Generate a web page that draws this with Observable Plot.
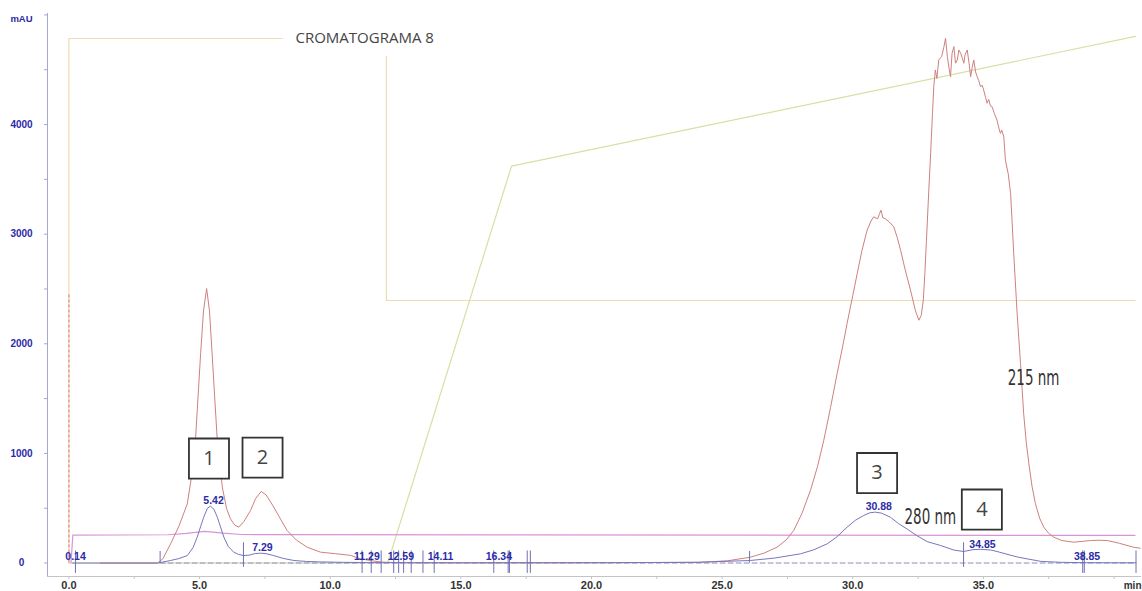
<!DOCTYPE html>
<html><head><meta charset="utf-8">
<script src="https://cdn.jsdelivr.net/npm/d3@7"></script>
<script src="https://cdn.jsdelivr.net/npm/@observablehq/plot@0.6"></script>
<style>html,body{margin:0;padding:0;background:#fff}</style>
</head><body><div id="chart"></div>
<script>
// ---- Data (time in min, signal in mAU) ----
const red215T = [1.2,3.4,3.6,3.89,4.2,4.53,4.7,4.85,5.04,5.15,5.27,5.38,5.48,5.67,5.87,6.03,6.18,6.35,6.5,6.7,6.95,7.15,7.36,7.55,7.84,8.1,8.35,8.7,9.12,9.63,10.2,10.78,11.16,11.6,12.04,13,15,18,21,24.17,25.2,26.08,26.6,27.1,27.45,27.74,28.05,28.38,28.65,28.89,29.15,29.4,29.6,29.78,30.0,30.17,30.35,30.55,30.7,30.8,30.95,31.03,31.08,31.15,31.25,31.31,31.4,31.57,31.7,31.83,32.0,32.21,32.4,32.53,32.62,32.7,32.76,32.82,32.91,32.98,33.05,33.1,33.16,33.22,33.29,33.4,33.48,33.55,33.62,33.68,33.74,33.8,33.87,33.93,34.0,34.06,34.13,34.2,34.25,34.3,34.38,34.45,34.51,34.57,34.63,34.7,34.76,34.82,34.89,34.95,35.01,35.08,35.14,35.2,35.27,35.33,35.42,35.52,35.6,35.65,35.7,35.78,35.84,35.95,36.04,36.1,36.16,36.29,36.42,36.54,36.64,36.74,36.86,36.99,37.15,37.31,37.5,37.69,38.0,38.46,38.8,39.1,39.4,39.74,40.2,40.75,41.0];
const red215V = [0,0,40,175,330,540,800,1149,1910,2300,2504,2300,1910,1149,692,500,404,345,327,380,479,590,653,620,510,400,297,210,144,99,85,70,38,20,7,3,2,2,3,7,20,53,90,144,210,297,450,662,880,1119,1420,1728,1960,2184,2440,2641,2850,3037,3120,3158,3140,3190,3219,3150,3140,3128,3110,3067,2970,2854,2680,2489,2300,2215,2260,2397,2650,2945,3402,3737,4100,4345,4498,4420,4589,4620,4700,4787,4620,4520,4436,4650,4711,4560,4589,4680,4650,4600,4559,4640,4680,4560,4436,4520,4589,4480,4436,4400,4345,4360,4315,4250,4194,4230,4170,4163,4100,4041,3960,3920,3950,3889,3676,3550,3372,3100,2824,2276,1819,1363,1100,906,700,541,410,327,270,236,205,190,198,205,208,205,180,144,135];

const blue280T = [0.14,3.4,3.89,4.2,4.53,4.75,4.91,5.05,5.16,5.3,5.42,5.55,5.68,5.8,5.93,6.1,6.31,6.5,6.69,6.9,7.1,7.33,7.55,7.84,8.2,8.61,9.1,9.63,10.5,12,15,20,24,26.08,27,28.0,28.5,29.02,29.4,29.78,30.1,30.42,30.65,30.86,31.1,31.44,31.75,32.08,32.45,32.85,33.36,33.87,34.24,34.6,34.9,35.3,35.6,35.9,36.3,36.67,37.2,38,39,40.84];
const blue280V = [0,0,23,40,68,140,236,340,418,500,519,490,418,330,236,150,99,78,68,72,85,90,85,68,42,23,14,10,6,3,2,3,6,23,45,84,120,175,240,327,390,434,458,464,455,418,360,310,250,195,160,118,105,122,125,118,100,80,55,38,15,6,3,2];

const pinkT = [0.08,0.15,3.8,4.5,5.2,5.9,6.6,40.8];
const pinkV = [0,255,258,270,288,272,260,252];

// gradient / program traces (a gap where the title sits)
const tanT = [0,0,8.16,null,12.15,12.15,40.8];
const tanV = [0,4785,4785,null,4621,2395,2395];
const greenT = [0,12.2,16.94,40.82];
const greenV = [0,0,3621,4804];

const injectionT = [0];
const injectionV = [2450];

const baselineT = [3.49,40.84];
const baselineV = [0,0];

// integration event marks (min)
const eventsDrop = [0.25,11.22,11.57,11.95,12.43,12.62,12.81,13.10,13.55,13.98,16.26,16.81,16.86,17.54,17.66,38.80,38.86,40.84];
const eventsCross = [6.68,34.24];
const eventsUp = [3.49,26.05];

// peak retention labels
const peakLabels = ["0.14","5.42","7.29","11.29","12.59","14.11","16.34","30.88","34.85","38.85"];
const peakRT = [0.14,5.42,7.29,11.29,12.59,14.11,16.34,30.88,34.85,38.85];
const peakH = [0,519,90,0,0,0,0,464,110,0];

// numbered peak boxes
const boxLabels = ["1","2","3","4"];
const boxT = [5.36,7.41,30.93,34.94];
const boxV = [953,962,821,488];

// wavelength annotations
const waveLabels = ["280 nm","215 nm"];
const waveT = [32.97,36.92];
const waveV = [424,1683];

const titleText = "CROMATOGRAMA 8";
const titleT = 8.67, titleV = 4785;

const xTicks = [0,5,10,15,20,25,30,35];
const xMinorTicks = d3.range(0, 41, 2.5);
const yTicks = [0,1000,2000,3000,4000];
const yMinorTicks = d3.range(0, 5001, 500);

const xDomain = [-0.82, 41.05];
const yDomain = [-123, 5013];

// ---- build tables ----
const zipTV = (T, V) => T.map((t, i) => ({t, v: V[i]}));
const red = zipTV(red215T, red215V);
const blue = zipTV(blue280T, blue280V);
const pink = zipTV(pinkT, pinkV);
const tan = zipTV(tanT, tanV);
const green = zipTV(greenT, greenV);
const injection = zipTV(injectionT, injectionV);
const baseline = zipTV(baselineT, baselineV);
const peaks = peakRT.map((t, i) => ({t, v: peakH[i], label: peakLabels[i]}));
const boxes = boxT.map((t, i) => ({t, v: boxV[i], label: boxLabels[i]}));
const waves = waveT.map((t, i) => ({t, v: waveV[i], label: waveLabels[i]}));

const blueC = "#7676bd", redC = "#cf8080", pinkC = "#d894d8", tanC = "#ecdcb4", greenC = "#d6e0a4", labC = "#2b2ba6";

const svg = Plot.plot({
  width: 1142, height: 591,
  marginTop: 13, marginRight: 1, marginBottom: 15, marginLeft: 47,
  style: {fontFamily: "'Liberation Sans', Arial, sans-serif", background: "#fff"},
  x: {domain: xDomain, label: null},
  y: {domain: yDomain, label: null},
  marks: [
    Plot.ruleX([xDomain[0]], {stroke: "#a6a6d2"}),
    Plot.ruleY([yDomain[0]], {stroke: "#c4c4c8"}),
    Plot.axisY({ticks: yMinorTicks, tickSize: 3, tickFormat: () => "", stroke: "#a6a6d2", label: null}),
    Plot.axisY({ticks: yTicks, tickSize: 0, tickPadding: 26, textAnchor: "middle", tickFormat: d => String(d), fill: labC, fontWeight: "bold", fontSize: 10, label: null}),
    Plot.axisX({ticks: xMinorTicks, tickSize: 3, tickFormat: () => "", stroke: "#c4c4c8", label: null}),
    Plot.axisX({ticks: xTicks, tickSize: 0, tickPadding: 5, tickFormat: d => d.toFixed(1), fill: "#333", fontWeight: "bold", fontSize: 11, label: null}),
    Plot.text(["mAU"], {frameAnchor: "top-left", textAnchor: "middle", lineAnchor: "top", dx: -26, dy: 2, fill: labC, fontWeight: "bold", fontSize: 9.5}),
    Plot.text(["min"], {frameAnchor: "bottom-right", textAnchor: "end", lineAnchor: "top", dy: 5, fill: "#333", fontWeight: "bold", fontSize: 10}),
    Plot.line(tan, {x: "t", y: "v", stroke: tanC, strokeWidth: 1.2}),
    Plot.line(green, {x: "t", y: "v", stroke: greenC, strokeWidth: 1.2}),
    Plot.line(baseline, {x: "t", y: "v", stroke: "#8c8cbc", strokeDasharray: "5,3", strokeWidth: 1}),
    Plot.line(pink, {x: "t", y: "v", stroke: pinkC, strokeWidth: 1.2}),
    Plot.ruleX(injection, {x: "t", y1: 0, y2: "v", stroke: "#e49090", strokeDasharray: "3,2", strokeWidth: 1.3}),
    Plot.line(red, {x: "t", y: "v", stroke: redC, strokeWidth: 1}),
    Plot.line(blue, {x: "t", y: "v", stroke: blueC, strokeWidth: 1}),
    Plot.ruleX(eventsDrop, {y1: -95, y2: 110, stroke: "#7070b4", strokeWidth: 1}),
    Plot.ruleX(eventsCross, {y1: -40, y2: 185, stroke: "#7070b4", strokeWidth: 1}),
    Plot.ruleX(eventsUp, {y1: 0, y2: 105, stroke: "#7070b4", strokeWidth: 1}),
    Plot.text(peaks, {x: "t", y: "v", text: "label", dx: 3, dy: -6, lineAnchor: "middle", fill: labC, fontWeight: "bold", fontSize: 10.5}),
    Plot.dot(boxes, {x: "t", y: "v", symbol: "square", r: 22.6, fill: "white", stroke: "#333", strokeWidth: 1.8}),
    Plot.text(boxes, {x: "t", y: "v", text: "label", fill: "#444", fontSize: 20, fontFamily: "'Open Sans', sans-serif"}),
    Plot.text(waves, {x: "t", y: "v", text: "label", fill: "#333", fontSize: 15, fontFamily: "'Liberation Sans Narrow', 'DejaVu Sans Condensed', sans-serif"}),
    Plot.text([titleText], {x: () => titleT, y: () => titleV, textAnchor: "start", fill: "#444", fontSize: 15, fontFamily: "'Open Sans', sans-serif"})
  ]
});

// stretch the narrow wavelength labels vertically like the original
d3.select(svg).selectAll("text").filter(function() { return /nm$/.test(this.textContent); })
  .each(function() {
    const tr = this.getAttribute("transform");
    if (tr && tr.startsWith("translate")) this.setAttribute("transform", tr + " scale(1,1.45)");
  });

document.getElementById("chart").appendChild(svg);
</script>
</body></html>
